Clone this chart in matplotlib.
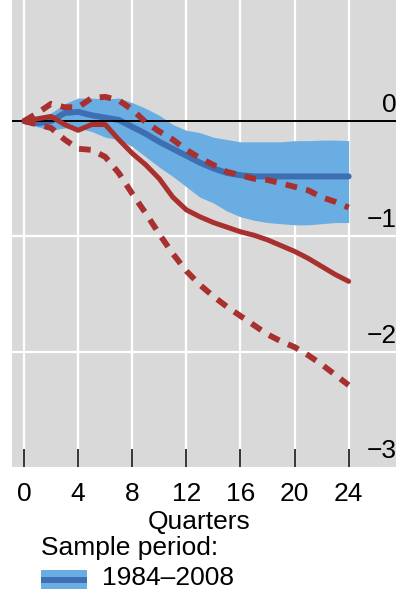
import matplotlib
matplotlib.use("Agg")
import matplotlib.pyplot as plt
from matplotlib.patches import Rectangle

plt.rcParams['font.family'] = ['Liberation Sans', 'DejaVu Sans']

quarters = list(range(25))
blue_median = [0, -0.02, 0.0, 0.07, 0.08, 0.05, 0.03, 0.01, -0.05, -0.11, -0.18, -0.24, -0.30,
               -0.36, -0.41, -0.45, -0.47, -0.48, -0.48, -0.48, -0.48, -0.48, -0.48, -0.48, -0.48]
blue_upper = [0, 0.04, 0.07, 0.15, 0.20, 0.20, 0.19, 0.20, 0.16, 0.11, 0.05, -0.03, -0.08,
              -0.10, -0.14, -0.16, -0.18, -0.18, -0.18, -0.18, -0.17, -0.17, -0.165, -0.165, -0.17]
blue_lower = [0, -0.05, -0.08, -0.06, -0.06, -0.09, -0.14, -0.16, -0.22, -0.31, -0.40, -0.48, -0.57,
              -0.66, -0.71, -0.78, -0.83, -0.86, -0.88, -0.89, -0.90, -0.90, -0.89, -0.88, -0.88]
red_median = [0, 0.02, 0.04, -0.03, -0.08, -0.03, -0.03, -0.16, -0.28, -0.38, -0.50, -0.66, -0.77,
              -0.83, -0.88, -0.92, -0.96, -0.99, -1.03, -1.08, -1.13, -1.19, -1.26, -1.33, -1.39]
red_upper = [0, 0.07, 0.15, 0.12, 0.12, 0.20, 0.21, 0.18, 0.10, -0.01, -0.09, -0.16, -0.25,
             -0.32, -0.38, -0.44, -0.47, -0.50, -0.51, -0.54, -0.57, -0.60, -0.66, -0.70, -0.75]
red_lower = [0, -0.03, -0.06, -0.16, -0.24, -0.25, -0.31, -0.45, -0.63, -0.80, -0.98, -1.15, -1.30,
             -1.42, -1.52, -1.61, -1.69, -1.77, -1.85, -1.91, -1.96, -2.03, -2.11, -2.20, -2.29]
x_ticks = [0, 4, 8, 12, 16, 20, 24]
y_ticks = [0, -1, -2, -3]
y_tick_labels = ['0', '\u22121', '\u22122', '\u22123']
legend_title = 'Sample period:'
legend_label = '1984\u20132008'

BG = '#d9d9d9'
BAND = '#69ade2'
BLUE = '#3e6fb2'
RED = '#a8302e'
FS = 19

W, H = 396, 594
fig = plt.figure(figsize=(W / 100, H / 100), dpi=100)
ax = fig.add_axes([12 / W, (H - 467) / H, (W - 12) / W, 467 / H])
ax.set_facecolor(BG)
ax.set_xlim(-0.89, 27.5)
ax.set_ylim(-3, 1.05)

for s in ax.spines.values():
    s.set_visible(False)

for xv in x_ticks:
    ax.axvline(xv, color='white', lw=1.6, zorder=1)
for yv in [-1, -2]:
    ax.axhline(yv, color='white', lw=1.6, zorder=1)
ax.axhline(0, color='black', lw=1.4, zorder=4)

ax.fill_between(quarters, blue_lower, blue_upper, color=BAND, lw=0, zorder=2)
ax.plot(quarters, blue_median, color=BLUE, lw=4.3, solid_capstyle='round', zorder=3)
ax.plot(quarters, red_median, color=RED, lw=3.6, solid_capstyle='round', zorder=5)
ax.plot(quarters, red_upper, color=RED, lw=4.2, dashes=(2.0, 1.6), zorder=5)
ax.plot(quarters, red_lower, color=RED, lw=4.2, dashes=(2.0, 1.6), zorder=5)

ax.set_xticks(x_ticks)
ax.set_xticklabels([str(v) for v in x_ticks])
ax.tick_params(axis='x', direction='in', length=13, width=1.1, color='black',
               pad=11, labelsize=FS)
ax.set_yticks([])

for yv, lab in zip(y_ticks, y_tick_labels):
    ax.annotate(lab, xy=(1.0, yv), xycoords=('axes fraction', 'data'),
                xytext=(1, 16), textcoords='offset pixels',
                ha='right', va='center', fontsize=FS, annotation_clip=False)

fig.text(199 / W, 1 - 522 / H, 'Quarters', ha='center', va='center', fontsize=FS)
fig.text(41 / W, 1 - 548 / H, legend_title, ha='left', va='center', fontsize=FS)
fig.patches.append(Rectangle((41 / W, 1 - 589 / H), 46 / W, 19 / H,
                             transform=fig.transFigure, facecolor=BAND, edgecolor='none'))
fig.patches.append(Rectangle((41 / W, 1 - 583 / H), 46 / W, 6 / H,
                             transform=fig.transFigure, facecolor=BLUE, edgecolor='none'))
fig.text(102 / W, 1 - 578 / H, legend_label, ha='left', va='center', fontsize=FS)

fig.savefig('out.png', dpi=100)
